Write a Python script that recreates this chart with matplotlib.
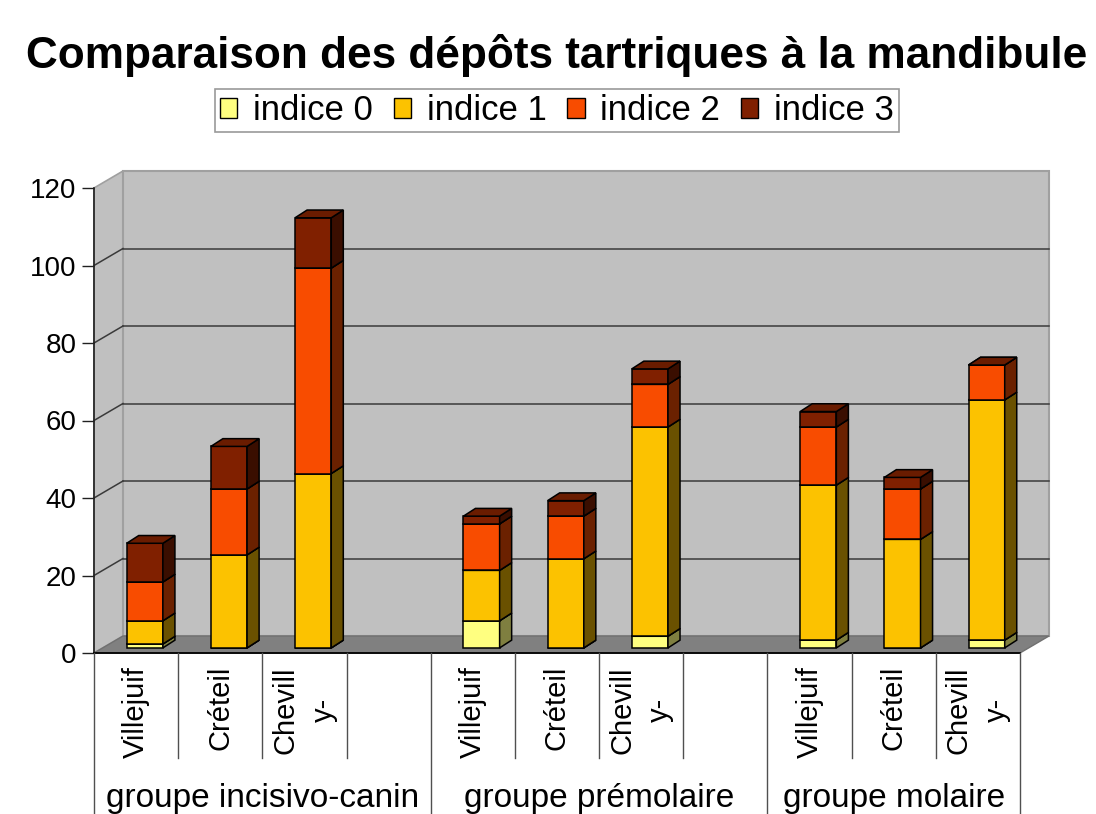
import matplotlib
matplotlib.use("Agg")
import matplotlib.pyplot as plt
from matplotlib.patches import Polygon, Patch

plt.rcParams['font.family'] = ['Liberation Sans', 'DejaVu Sans']

# ---------------- data ----------------
title = "Comparaison des dépôts tartriques à la mandibule"
series_names = ["indice 0", "indice 1", "indice 2", "indice 3"]
groups = ["groupe incisivo-canin", "groupe prémolaire", "groupe molaire"]
sites = ["Villejuif", "Créteil", "Chevill\ny-"]
# values per bar (order: group1 sites, group2 sites, group3 sites)
indice0 = [1, 0, 0, 7, 0, 3, 2, 0, 2]
indice1 = [6, 24, 45, 13, 23, 54, 40, 28, 62]
indice2 = [10, 17, 53, 12, 11, 11, 15, 13, 9]
indice3 = [10, 11, 13, 2, 4, 4, 4, 3, 0]
yticks = [0, 20, 40, 60, 80, 100, 120]

# ---------------- style ----------------
front_col = ['#ffff80', '#fcc200', '#f84c00', '#802000']
side_col = ['#7f7f40', '#6a5100', '#6b2100', '#3a0e00']
top_col = ['#d4d46a', '#d2a100', '#ce3f00', '#6a1c00']
wall_col = '#c0c0c0'
floor_col = '#808080'
grid_col = '#3a3a3a'

W, H = 1096, 814
fig = plt.figure(figsize=(W / 100, H / 100), dpi=100)
# front plane: pixel x 94..1020, y 653 (0) .. 188 (120)
ax = fig.add_axes([94 / W, (H - 653) / H, (1020 - 94) / W, (653 - 188) / H])
nslots = 11
ax.set_xlim(0, nslots)
ax.set_ylim(0, 120)
ax.patch.set_visible(False)
for s in ['top', 'right', 'bottom']:
    ax.spines[s].set_visible(False)
ax.spines['left'].set_color('#202020')
ax.spines['left'].set_linewidth(1.2)
ax.set_xticks([])
ax.set_yticks(yticks)
ax.tick_params(axis='y', length=8.6, width=1.0, color='#202020', pad=4, labelsize=20)

ds = 29 / 84.2      # depth offset in slots
dv = 17 / 3.875     # depth offset in value units

def poly(pts, fc, ec='none', lw=0, z=1):
    ax.add_patch(Polygon(pts, closed=True, facecolor=fc, edgecolor=ec,
                         linewidth=lw, clip_on=False, zorder=z, joinstyle='miter'))

# walls
poly([(0, 0), (0, 120), (ds, 120 + dv), (ds, dv)], wall_col, '#a0a0a0', 1.2, 0.5)
poly([(ds, dv), (nslots + ds, dv), (nslots + ds, 120 + dv), (ds, 120 + dv)],
     wall_col, '#a0a0a0', 1.5, 0.5)
poly([(0, 0), (nslots, 0), (nslots + ds, dv), (ds, dv)], floor_col, '#707070', 1.0, 0.6)
for v in yticks[1:-1]:
    ax.plot([ds, nslots + ds], [v + dv, v + dv], color=grid_col, lw=1.1,
            clip_on=False, zorder=0.8)
    ax.plot([0, ds], [v, v + dv], color=grid_col, lw=1.1, clip_on=False, zorder=0.8)

# bars
slots = [0, 1, 2, 4, 5, 6, 8, 9, 10]
f = 0.3
bw = 0.43
bds, bdv = 0.143, 2.0
series = [indice0, indice1, indice2, indice3]
z = 2
for i, s in enumerate(slots):
    xc = s + 0.5 + f * ds
    base = f * dv
    for k, vals in enumerate(series):
        h = vals[i]
        ax.bar(xc, h, bottom=base, width=bw, color=front_col[k], edgecolor='black',
               linewidth=1.1, clip_on=False, zorder=z)
        xr = xc + bw / 2
        xl = xc - bw / 2
        poly([(xr, base), (xr, base + h), (xr + bds, base + h + bdv), (xr + bds, base + bdv)],
             side_col[k], 'black', 1.1, z)
        top = base + h
        poly([(xl, top), (xr, top), (xr + bds, top + bdv), (xl + bds, top + bdv)],
             top_col[k], 'black', 1.1, z)
        z += 0.01
        base = top

# category axis / table
line_c = '#505050'
ax.plot([0, nslots], [0, 0], color='black', lw=1.3, clip_on=False, zorder=3)
y_short = (653 - 758) / 3.875
y_long = (653 - 830) / 3.875
for b in range(nslots + 1):
    yb = y_long if b in (0, 4, 8, 11) else y_short
    ax.plot([b, b], [0, yb], color=line_c, lw=1.0, clip_on=False, zorder=3)

y_lab = (653 - 666) / 3.875
for i, s in enumerate(slots):
    ax.text(s + 0.5, y_lab, sites[i % 3], rotation=90, ha='center', va='top',
            fontsize=21, multialignment='center', linespacing=1.45, clip_on=False)

group_centers = [2, 6, 9.5]
y_grp = (653 - 807) / 3.875
for g, c in zip(groups, group_centers):
    ax.text(c, y_grp, g, ha='center', va='baseline', fontsize=24, clip_on=False)

# title
fig.text(557 / W, 1 - 68 / H, title, ha='center', va='baseline', fontsize=31.8,
         fontweight='bold')

# legend
handles = [Patch(facecolor=front_col[k], edgecolor='black', linewidth=1.0) for k in range(4)]
leg = fig.legend(handles, series_names, loc='center', bbox_to_anchor=(557 / W, 1 - 110.5 / H),
                 ncol=4, frameon=True, fancybox=False, fontsize=25, handlelength=0.5,
                 handleheight=0.5, handletextpad=0.45, columnspacing=0.6, borderpad=0.15,
                 borderaxespad=0)
leg.get_frame().set_edgecolor('#808080')
leg.get_frame().set_linewidth(1.2)

fig.savefig('out.png', dpi=100)
